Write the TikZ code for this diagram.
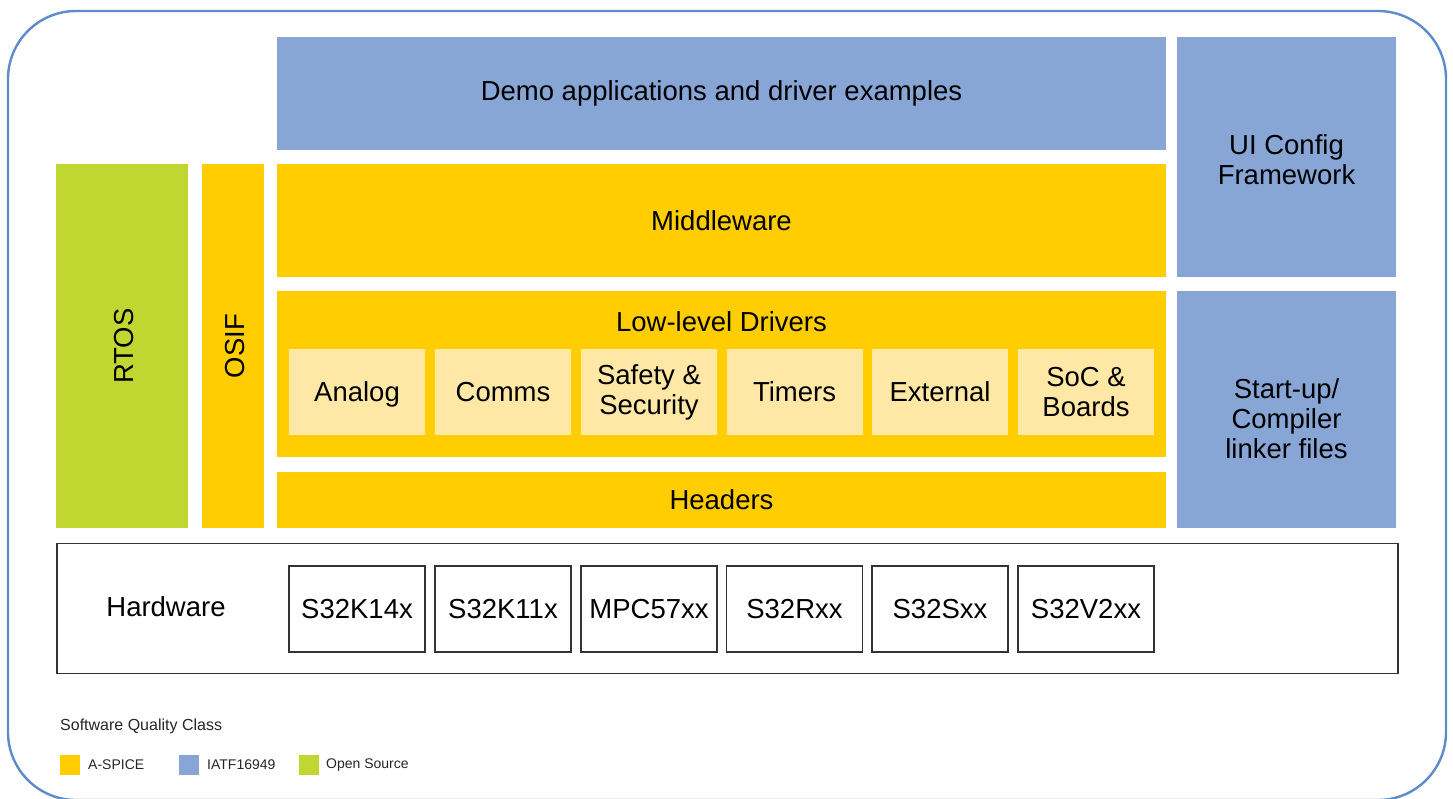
\documentclass[tikz,border=0pt]{standalone}
\usepackage{fontspec}
\setmainfont{Liberation Sans}
\definecolor{nxpblue}{HTML}{87A5D5}
\definecolor{nxpyellow}{HTML}{FFCD00}
\definecolor{nxpgreen}{HTML}{C0D731}
\definecolor{lightyel}{HTML}{FFE7A6}
\definecolor{frameblue}{HTML}{5E8BC9}
\definecolor{hwline}{HTML}{333333}
\begin{document}
\begin{tikzpicture}[x=1pt,y=-1pt,
  blk/.style={inner sep=0pt, outer sep=0pt, align=center, font=\fontsize{27.5}{30}\selectfont, text=black},
  bluebox/.style={blk, fill=nxpblue},
  yelbox/.style={blk, fill=nxpyellow},
  greenbox/.style={blk, fill=nxpgreen},
  subbox/.style={blk, fill=lightyel, minimum width=136pt, minimum height=86pt},
  chip/.style={blk, draw=hwline, line width=1.3pt, fill=white, minimum width=136pt, minimum height=86pt},
  lbl/.style={blk},
  legsq/.style={inner sep=0pt, minimum width=20pt, minimum height=20pt},
  legtitle/.style={inner sep=0pt, anchor=west, font=\fontsize{16}{18}\selectfont, text=black!85},
  legtxt/.style={inner sep=0pt, anchor=west, font=\fontsize{14}{16}\selectfont, text=black!85}
]
\useasboundingbox (0,0) rectangle (1453,798);
\fill[white] (0,0) rectangle (1453,798);
\begin{scope}
\clip (0,0) rectangle (1453,798);
\draw[frameblue, line width=2.4pt, rounded corners=68pt] (8,11) rectangle (1446,800);
\end{scope}

% top layers
\node[bluebox, minimum width=889pt, minimum height=113pt] (demo) at (721.5,93) {Demo applications and driver examples};
\node[bluebox, minimum width=219pt, minimum height=240pt] (ui) at (1286.5,157) {};
\node[lbl] (uit) at (1286.5,160) {UI Config\\Framework};
\node[greenbox, minimum width=132pt, minimum height=364pt] (rtos) at (122,346) {};
\node[lbl, rotate=90] (rtost) at (124,346) {RTOS};
\node[yelbox, minimum width=62pt, minimum height=364pt] (osif) at (233,346) {};
\node[lbl, rotate=90] (osift) at (235,346) {OSIF};
\node[yelbox, minimum width=889pt, minimum height=113pt] (mw) at (721.5,220.5) {Middleware};
\node[yelbox, minimum width=889pt, minimum height=166pt] (lld) at (721.5,374) {};
\node[lbl] (lldt) at (721.5,322) {Low-level Drivers};
\node[subbox] (analog) at (357,392) {};
\node[lbl] (analogt) at (357,394) {Analog};
\node[subbox] (comms) at (503,392) {Comms};
\node[subbox] (safety) at (649,392) {Safety \&\\Security};
\node[subbox] (timers) at (794.5,392) {Timers};
\node[subbox] (ext) at (940,392) {External};
\node[subbox] (soc) at (1086,392) {SoC \&\\Boards};
\node[yelbox, minimum width=889pt, minimum height=56pt] (hdr) at (721.5,500) {Headers};
\node[bluebox, minimum width=219pt, minimum height=237pt] (start) at (1286.5,409.5) {};
\node[lbl] (startt) at (1286.5,419) {Start-up/\\Compiler\\linker files};

% hardware
\node[blk, draw=hwline, line width=1.5pt, minimum width=1341pt, minimum height=130pt] (hw) at (727.5,608.5) {};
\node[lbl] (hwt) at (166,607) {Hardware};
\node[chip] (c1) at (357,609) {S32K14x};
\node[chip] (c2) at (503,609) {S32K11x};
\node[chip] (c3) at (649,609) {MPC57xx};
\node[chip] (c4) at (794.5,609) {S32Rxx};
\node[chip] (c5) at (940,609) {S32Sxx};
\node[chip] (c6) at (1086,609) {S32V2xx};

% legend
\node[legtitle] (legt) at (60,726) {Software Quality Class};
\node[legsq, fill=nxpyellow] (l1) at (70,765) {};
\node[legtxt] (l1t) at (88,765) {A-SPICE};
\node[legsq, fill=nxpblue] (l2) at (189,765) {};
\node[legtxt] (l2t) at (207,765) {IATF16949};
\node[legsq, fill=nxpgreen] (l3) at (309,765) {};
\node[legtxt] (l3t) at (326,765) {Open Source};
\end{tikzpicture}
\end{document}
